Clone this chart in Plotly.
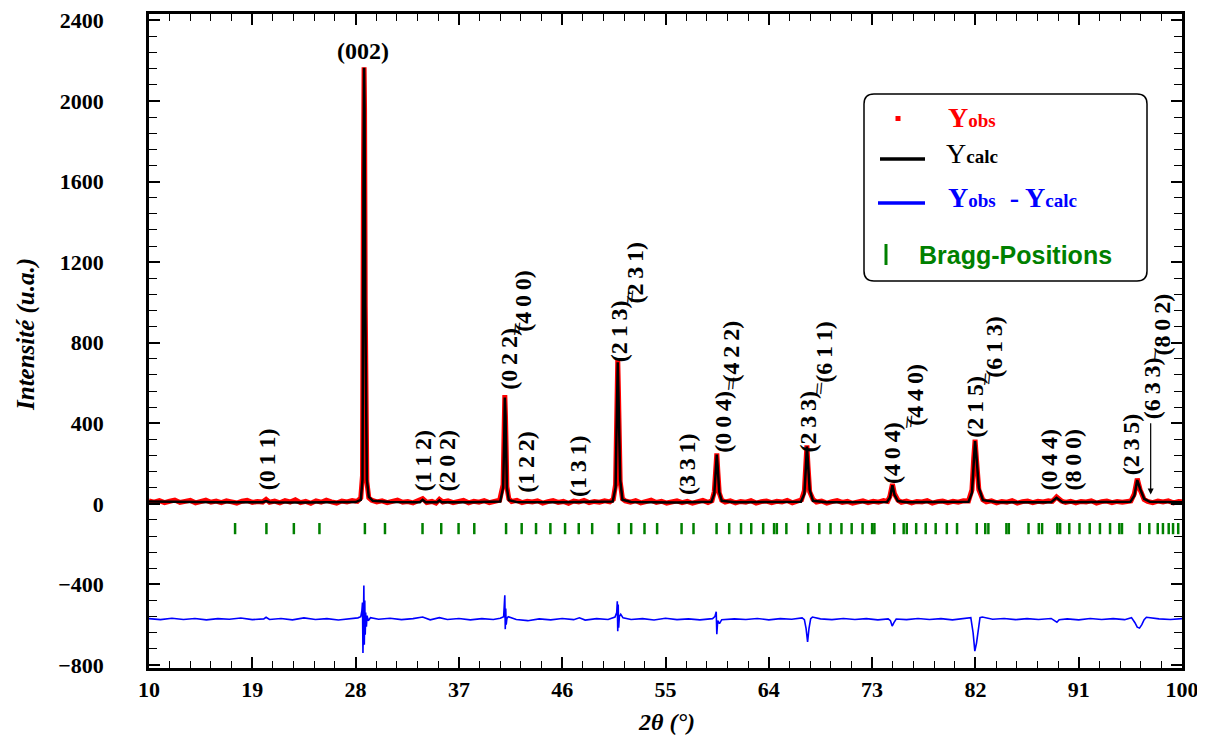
import plotly.graph_objects as go

# ---------------- data ----------------
calc_x = [10.0, 12.0, 14.0, 16.0, 18.0, 19.9, 20.2, 20.5, 23.0, 26.0,
          28.0, 28.45, 28.6, 28.68, 28.74, 28.78, 28.84, 28.9, 28.98, 29.15,
          29.5, 31.0, 33.6, 33.84, 34.1, 35.1, 35.3, 35.5, 38.0, 40.6,
          40.85, 40.95, 41.0, 41.06, 41.12, 41.18, 41.35, 42.0, 46.0, 50.4,
          50.65, 50.76, 50.84, 50.9, 50.96, 51.05, 51.25, 52.0, 56.0, 59.0,
          59.25, 59.38, 59.47, 59.56, 59.68, 59.9, 61.0, 66.8, 67.1, 67.23,
          67.32, 67.42, 67.56, 67.85, 69.0, 74.3, 74.55, 74.77, 74.95, 75.25,
          76.0, 81.4, 81.7, 81.85, 81.97, 82.1, 82.3, 82.65, 84.0, 88.6,
          89.07, 89.6, 95.5, 95.85, 96.1, 96.35, 96.7, 97.2, 100.0]
calc_y = [12, 10, 9, 8, 8, 8, 14, 8, 7, 7,
          9, 20, 120, 1520, 2165, 1950, 1000, 480, 120, 35,
          15, 9, 8, 20, 8, 8, 17, 8, 8, 12,
          80, 330, 528, 440, 285, 80, 18, 9, 8, 12,
          80, 380, 703, 550, 378, 120, 20, 9, 7, 10,
          50, 160, 245, 170, 60, 15, 8, 10, 50, 180,
          285, 200, 70, 15, 8, 9, 30, 92, 45, 14,
          8, 10, 55, 200, 311, 230, 80, 18, 8, 8,
          30, 8, 10, 40, 118, 75, 25, 10, 8]

obs_x = [10.0, 10.45, 10.9, 11.35, 11.8, 12.25, 12.7, 13.15, 13.6, 14.05,
         14.5, 14.95, 15.4, 15.85, 16.3, 16.75, 17.2, 17.65, 18.1, 18.55,
         19.0, 19.45, 19.9, 20.2, 20.5, 20.95, 21.4, 21.85, 22.3, 22.75,
         23.2, 23.65, 24.1, 24.55, 25.0, 25.45, 25.9, 26.35, 26.8, 27.25,
         27.7, 28.15, 28.45, 28.6, 28.68, 28.74, 28.78, 28.84, 28.9, 28.98,
         29.15, 29.4, 29.85, 30.3, 30.75, 31.2, 31.65, 32.1, 32.55, 33.0,
         33.45, 33.84, 34.2, 34.65, 35.0, 35.3, 35.6, 36.05, 36.5, 36.95,
         37.4, 37.85, 38.3, 38.75, 39.2, 39.65, 40.1, 40.55, 40.85, 40.95,
         41.0, 41.06, 41.12, 41.18, 41.35, 41.6, 42.05, 42.5, 42.95, 43.4,
         43.85, 44.3, 44.75, 45.2, 45.65, 46.1, 46.55, 47.0, 47.45, 47.9,
         48.35, 48.8, 49.25, 49.7, 50.15, 50.45, 50.65, 50.76, 50.84, 50.9,
         50.96, 51.05, 51.25, 51.5, 51.95, 52.4, 52.85, 53.3, 53.75, 54.2,
         54.65, 55.1, 55.55, 56.0, 56.45, 56.9, 57.35, 57.8, 58.25, 58.7,
         59.05, 59.25, 59.38, 59.47, 59.56, 59.68, 59.9, 60.2, 60.65, 61.1,
         61.55, 62.0, 62.45, 62.9, 63.35, 63.8, 64.25, 64.7, 65.15, 65.6,
         66.05, 66.5, 66.85, 67.1, 67.23, 67.32, 67.42, 67.56, 67.85, 68.15,
         68.6, 69.05, 69.5, 69.95, 70.4, 70.85, 71.3, 71.75, 72.2, 72.65,
         73.1, 73.55, 74.0, 74.35, 74.55, 74.77, 74.95, 75.25, 75.55, 76.0,
         76.45, 76.9, 77.35, 77.8, 78.25, 78.7, 79.15, 79.6, 80.05, 80.5,
         80.95, 81.4, 81.7, 81.85, 81.97, 82.1, 82.3, 82.65, 82.95, 83.4,
         83.85, 84.3, 84.75, 85.2, 85.65, 86.1, 86.55, 87.0, 87.45, 87.9,
         88.35, 88.7, 89.07, 89.5, 89.85, 90.3, 90.75, 91.2, 91.65, 92.1,
         92.55, 93.0, 93.45, 93.9, 94.35, 94.8, 95.25, 95.55, 95.85, 96.1,
         96.35, 96.7, 97.0, 97.45, 97.9, 98.35, 98.8, 99.25, 99.7, 100.0]
obs_y = [14, 8, 16, 6, 13, 19, 7, 12, 17, 5,
         11, 18, 8, 14, 6, 15, 10, 4, 13, 17,
         7, 12, 9, 22, 8, 14, 5, 16, 9, 20,
         6, 12, 3, 15, 8, 18, 10, 4, 14, 9,
         16, 12, 30, 140, 1530, 2168, 1960, 980, 470, 110,
         30, 18, 10, 15, 6, 13, 19, 8, 11, 5,
         14, 26, 7, 12, 4, 22, 9, 15, 6, 11,
         17, 5, 13, 8, 16, 6, 12, 18, 95, 340,
         540, 430, 270, 85, 25, 12, 17, 6, 13, 9,
         15, 4, 11, 16, 7, 12, 3, 14, 9, 17,
         6, 12, 8, 15, 10, 22, 95, 400, 715, 560,
         370, 110, 25, 14, 8, 16, 5, 12, 18, 7,
         13, 4, 10, 15, 6, 12, 3, 11, 17, 7,
         16, 60, 175, 250, 160, 55, 18, 9, 15, 5,
         12, 8, 16, 4, 11, 14, 6, 13, 9, 17,
         5, 12, 20, 65, 195, 290, 185, 60, 22, 9,
         14, 4, 11, 16, 7, 12, 3, 10, 15, 6,
         13, 8, 16, 12, 38, 98, 50, 18, 8, 14,
         5, 12, 9, 16, 4, 11, 14, 6, 13, 8,
         15, 14, 70, 225, 318, 215, 70, 20, 10, 15,
         5, 12, 8, 16, 4, 11, 14, 6, 13, 9,
         15, 12, 34, 14, 7, 13, 5, 12, 9, 15,
         4, 11, 14, 6, 12, 8, 15, 14, 50, 125,
         70, 22, 12, 6, 14, 9, 15, 5, 12, 10]

diff_x = [10.0, 11.0, 12.0, 13.0, 14.0, 15.0, 16.0, 17.0, 18.0, 19.0,
          20.0, 20.2, 20.5, 21.5, 22.5, 23.5, 24.5, 25.5, 26.5, 27.5,
          28.2, 28.45, 28.55, 28.6, 28.64, 28.68, 28.72, 28.76, 28.8, 28.84,
          28.88, 28.94, 29.0, 29.1, 29.3, 30.0, 31.0, 32.0, 33.0, 33.84,
          34.5, 35.3, 36.0, 37.0, 38.0, 39.0, 40.0, 40.6, 40.9, 41.0,
          41.04, 41.08, 41.12, 41.18, 41.3, 42.0, 43.0, 44.0, 45.0, 46.0,
          47.0, 47.5, 48.0, 49.0, 50.0, 50.6, 50.75, 50.8, 50.84, 50.88,
          50.92, 50.98, 51.1, 51.3, 52.0, 53.0, 54.0, 55.0, 56.0, 57.0,
          58.0, 59.1, 59.3, 59.42, 59.47, 59.55, 59.7, 59.9, 61.0, 62.0,
          63.0, 64.0, 65.0, 66.0, 66.9, 67.1, 67.25, 67.38, 67.5, 67.65,
          67.8, 68.5, 69.5, 70.5, 71.5, 72.5, 73.5, 74.4, 74.6, 74.75,
          74.9, 75.1, 76.0, 77.0, 78.0, 79.0, 80.0, 81.2, 81.6, 81.8,
          81.95, 82.1, 82.25, 82.4, 82.6, 83.5, 84.5, 85.5, 86.5, 87.5,
          88.6, 88.9, 89.1, 89.3, 90.0, 91.0, 92.0, 93.0, 94.0, 95.0,
          95.6, 95.9, 96.1, 96.3, 96.5, 96.7, 96.9, 98.0, 99.0, 100.0]
diff_y = [-570, -575, -568, -574, -569, -576, -570, -573, -567, -575,
          -571, -563, -574, -569, -576, -566, -574, -570, -577, -571,
          -566, -560, -530, -490, -741, -600, -405, -700, -480, -650,
          -540, -610, -555, -580, -565, -573, -568, -575, -570, -562,
          -576, -565, -574, -569, -576, -570, -574, -568, -560, -454,
          -622, -520, -600, -570, -560, -574, -580, -571, -576, -569,
          -575, -566, -577, -570, -574, -562, -540, -484, -632, -500,
          -615, -560, -548, -566, -574, -570, -577, -568, -575, -571,
          -576, -570, -560, -536, -647, -580, -595, -575, -571, -574,
          -569, -576, -570, -573, -566, -575, -620, -686, -620, -570,
          -562, -571, -575, -569, -574, -570, -576, -571, -580, -607,
          -590, -572, -575, -569, -574, -570, -576, -568, -565, -640,
          -731, -690, -610, -565, -562, -573, -569, -575, -570, -574,
          -569, -580, -588, -575, -571, -576, -569, -574, -570, -575,
          -565, -590, -612, -617, -600, -575, -563, -571, -574, -570]

bragg_x = [17.50, 20.23, 22.62, 24.85, 28.81, 30.56, 33.83, 35.46, 36.97, 38.34,
           41.11, 42.47, 43.72, 44.97, 46.25, 47.44, 48.61, 50.93, 52.01, 53.17,
           54.27, 56.40, 57.44, 59.45, 60.55, 61.58, 62.47, 63.51, 64.46, 64.70,
           65.53, 67.43, 68.40, 69.38, 70.33, 71.22, 72.17, 73.00, 73.20, 74.93,
           75.75, 76.02, 76.84, 77.67, 78.54, 79.51, 80.40, 82.12, 82.86, 83.13,
           84.70, 84.91, 86.63, 87.52, 87.81, 89.14, 89.38, 90.18, 91.07, 91.96,
           92.85, 93.73, 94.54, 94.77, 96.32, 97.15, 97.89, 98.34, 98.84, 99.22,
           99.67]
bragg_level = -123

hkl_text = ["(002)", "(011)", "(112)", "(202)", "(122)", "(131)", "(022)", "(400)",
            "(213)", "(231)", "(331)", "(004)", "(422)", "(233)", "(611)", "(404)",
            "(440)", "(215)", "(613)", "(044)", "(800)", "(235)", "(633)", "(802)"]
hkl_x = [28.64, 20.25, 33.87, 35.88, 42.85, 47.33, 41.39, 42.56,
         50.89, 52.34, 56.83, 60.01, 60.68, 67.41, 68.81, 74.79,
         76.74, 81.96, 83.62, 88.41, 90.5, 95.53, 97.45, 98.23]
hkl_y = [2250, 220, 215, 215, 209, 190, 722, 1007,
         859, 1148, 195, 408, 755, 408, 755, 251,
         542, 482, 780, 220, 220, 294, 573, 889]
sep_text = ["//", "//", "//", "//", "//", "//", "/"]
sep_x = [42.1, 51.95, 60.75, 68.4, 76.25, 83.05, 97.65]
sep_y = [869, 1027, 596, 572, 408, 621, 740]
arrow_x = 97.27
arrow_from_y = 408
arrow_to_y = 47

x_ticks = [10, 19, 28, 37, 46, 55, 64, 73, 82, 91, 100]
y_ticks = [-800, -400, 0, 400, 800, 1200, 1600, 2000, 2400]

# ---------------- figure ----------------
SERIF = "Liberation Serif"
OFF = 8                      # page body margin of the html page
W, H = 1205 - OFF, 740 - OFF
L, R, T, B = 149 - OFF, 23, 14 - OFF, 72
PW, PH = W - L - R, H - T - B


def px(xp):
    """page pixel x -> paper"""
    return (xp - OFF - L) / PW


def py(yp):
    """page pixel y -> paper"""
    return (H - B - (yp - OFF)) / PH


fig = go.Figure()
fig.add_trace(go.Scatter(x=obs_x, y=obs_y, mode="lines",
                         line=dict(color="#ff0000", width=5), name="Yobs"))
fig.add_trace(go.Scatter(x=calc_x, y=calc_y, mode="lines",
                         line=dict(color="black", width=2.5), name="Ycalc"))
fig.add_trace(go.Scatter(x=diff_x, y=diff_y, mode="lines",
                         line=dict(color="#0000ff", width=1.6), name="Yobs-Ycalc"))
fig.add_trace(go.Scatter(x=bragg_x, y=[bragg_level] * len(bragg_x), mode="markers",
                         marker=dict(symbol="line-ns", size=8,
                                     line=dict(color="#008000", width=2.5)),
                         name="Bragg"))

axis_common = dict(showgrid=False, zeroline=False, showline=True, linecolor="black",
                   linewidth=2.5, mirror="allticks", ticks="inside", tickcolor="black",
                   tickwidth=2, ticklen=11, ticklabeloverflow="allow",
                   tickfont=dict(family=SERIF, size=22, color="black", weight="bold"))

fig.update_xaxes(range=[10, 100], tickvals=x_ticks, **axis_common,
                 minor=dict(dtick=1.8, tick0=10, ticks="inside", ticklen=7,
                            tickwidth=1.3, tickcolor="black", showgrid=False))
fig.update_yaxes(range=[-815, 2432], tickvals=y_ticks, ticklabelstandoff=38,
                 **axis_common,
                 minor=dict(dtick=80, tick0=0, ticks="inside", ticklen=8,
                            tickwidth=1.3, tickcolor="black", showgrid=False))

ann = []
thin = "\u2009"
for i, (t, x, y) in enumerate(zip(hkl_text, hkl_x, hkl_y)):
    if i == 0:
        ann.append(dict(x=x, y=y, text="<b>" + t + "</b>", showarrow=False,
                        font=dict(family=SERIF, size=24, color="black"),
                        xanchor="center", yanchor="middle"))
    else:
        spaced = t[0] + thin.join(t[1:-1]) + t[-1]
        ann.append(dict(x=x, y=y, text="<b>" + spaced + "</b>", showarrow=False,
                        textangle=-90,
                        font=dict(family=SERIF, size=24, color="black"),
                        xanchor="center", yanchor="middle"))
for t, x, y in zip(sep_text, sep_x, sep_y):
    ann.append(dict(x=x, y=y, text=t, showarrow=False, textangle=-10,
                    font=dict(family="Liberation Sans", size=15, color="black"),
                    xanchor="center", yanchor="middle"))
ann.append(dict(x=arrow_x, y=arrow_to_y, ax=arrow_x, ay=arrow_from_y,
                axref="x", ayref="y", xref="x", yref="y", text="",
                showarrow=True, arrowhead=2, arrowsize=1, arrowwidth=1.2,
                arrowcolor="black"))

# axis titles
ann.append(dict(xref="paper", yref="paper", x=px(666), y=py(722),
                text="<b><i>2θ (°)</i></b>", showarrow=False,
                font=dict(family=SERIF, size=24, color="black"),
                xanchor="center", yanchor="middle"))
ann.append(dict(xref="paper", yref="paper", x=px(26), y=py(335),
                text="<b><i>Intensité (u.a.)</i></b>", showarrow=False, textangle=-90,
                font=dict(family=SERIF, size=25, color="black"),
                xanchor="center", yanchor="middle"))


# legend (drawn by hand)
def leg_text(xp, yp, html, color, family=SERIF, size=28):
    return dict(xref="paper", yref="paper", x=px(xp), y=py(yp), text=html,
                showarrow=False, xanchor="left", yanchor="middle",
                font=dict(family=family, size=size, color=color))


small = "<span style='font-size:19px'>"
ann.append(leg_text(946, 118, "<b>Y" + small + "obs</span></b>", "#ff0000"))
ann.append(leg_text(944, 154, "Y" + small + "<b>calc</b></span>", "black"))
ann.append(leg_text(946, 197, "<b>Y" + small + "obs</span>  - Y" + small +
                    "calc</span></b>", "#0000ff"))
ann.append(leg_text(917, 255, "<b>Bragg-Positions</b>", "#008000",
                    family="Liberation Sans", size=25))

x0, x1, y0, y1 = px(864), px(1147), py(281), py(94)
rx, ry = 10 / PW, 10 / PH
path = (f"M {x0+rx},{y0} L {x1-rx},{y0} Q {x1},{y0} {x1},{y0+ry} "
        f"L {x1},{y1-ry} Q {x1},{y1} {x1-rx},{y1} L {x0+rx},{y1} "
        f"Q {x0},{y1} {x0},{y1-ry} L {x0},{y0+ry} Q {x0},{y0} {x0+rx},{y0} Z")
shapes = [
    dict(type="path", xref="paper", yref="paper", path=path,
         line=dict(color="black", width=1.5), fillcolor="white", layer="below"),
    dict(type="rect", xref="paper", yref="paper", x0=px(895.5), x1=px(900.5),
         y0=py(121), y1=py(116), line=dict(width=0), fillcolor="#ff0000"),
    dict(type="line", xref="paper", yref="paper", x0=px(880), x1=px(925),
         y0=py(159), y1=py(159), line=dict(color="black", width=3.5)),
    dict(type="line", xref="paper", yref="paper", x0=px(878), x1=px(925),
         y0=py(203), y1=py(203), line=dict(color="#0000ff", width=3.5)),
    dict(type="line", xref="paper", yref="paper", x0=px(886), x1=px(886),
         y0=py(265), y1=py(244), line=dict(color="#008000", width=3)),
]

fig.update_layout(width=W, height=H, margin=dict(l=L, r=R, t=T, b=B, autoexpand=False),
                  plot_bgcolor="white", paper_bgcolor="white", showlegend=False,
                  annotations=ann, shapes=shapes)

fig.write_html("out.html")
